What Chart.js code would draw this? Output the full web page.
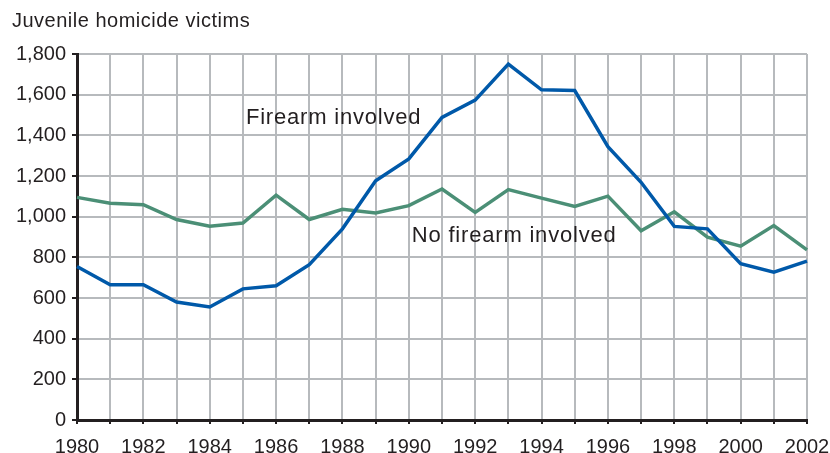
<!DOCTYPE html>
<html>
<head>
<meta charset="utf-8">
<script src="https://cdn.jsdelivr.net/npm/chart.js@4"></script>
<style>
  html, body { margin: 0; padding: 0; background: #fff; }
  #wrap { width: 830px; height: 453px; position: relative; }
</style>
</head>
<body>
<div id="wrap"><canvas id="chart" width="830" height="453"></canvas></div>
<script>
// ── DATA ──────────────────────────────────────
const years = ['1980','1981','1982','1983','1984','1985','1986','1987','1988','1989','1990',
               '1991','1992','1993','1994','1995','1996','1997','1998','1999','2000','2001','2002'];
const firearm   = [755, 665, 665, 580, 556, 645, 660, 764, 940, 1177, 1284,
                   1488, 1573, 1750, 1624, 1620, 1344, 1169, 952, 940, 769, 727, 781];
const noFirearm = [1095, 1066, 1059, 986, 953, 969, 1106, 986, 1036, 1018, 1054,
                   1136, 1021, 1133, 1091, 1050, 1101, 931, 1024, 899, 855, 956, 837];
const yTicks = [0, 200, 400, 600, 800, 1000, 1200, 1400, 1600, 1800];

const titleText = 'Juvenile homicide victims';
const seriesLabels = [
    { text: 'Firearm involved',    year: '1985', value: 1485 },
    { text: 'No firearm involved', year: '1990', value: 905 }
];

const FONT = '"Liberation Sans", Arial, Helvetica, sans-serif';

// title + in-plot series labels
const textPlugin = {
    id: 'texts',
    afterDraw(chart) {
        const ctx = chart.ctx;
        const xs = chart.scales.x, ys = chart.scales.y;
        ctx.save();
        ctx.fillStyle = '#231f20';
        ctx.textBaseline = 'alphabetic';
        ctx.textAlign = 'left';
        ctx.font = '20px ' + FONT;
        ctx.letterSpacing = '0.5px';
        ctx.fillText(titleText, 12, 27);
        ctx.textBaseline = 'middle';
        ctx.font = '22px ' + FONT;
        ctx.letterSpacing = '0.8px';
        seriesLabels.forEach(l => {
            const x = xs.getPixelForValue(years.indexOf(l.year)) + 3;
            ctx.fillText(l.text, x, ys.getPixelForValue(l.value));
        });
        ctx.letterSpacing = '0px';
        ctx.restore();
    }
};

new Chart(document.getElementById('chart').getContext('2d'), {
    type: 'line',
    data: {
        labels: years,
        datasets: [
            { label: 'Firearm involved', data: firearm, borderColor: '#0059a9', borderWidth: 3.5,
              pointRadius: 0, tension: 0, borderJoinStyle: 'miter' },
            { label: 'No firearm involved', data: noFirearm, borderColor: '#4b8f76', borderWidth: 3.5,
              pointRadius: 0, tension: 0, borderJoinStyle: 'miter' }
        ]
    },
    options: {
        responsive: false,
        animation: false,
        layout: { autoPadding: false, padding: { top: 54, right: 23, bottom: 0, left: 0 } },
        plugins: { legend: { display: false }, tooltip: { enabled: false }, title: { display: false } },
        scales: {
            x: {
                offset: false,
                // fixed height, and no extra side padding for the end labels
                afterFit: s => { s.height = 33; s.paddingLeft = 0; s.paddingRight = 0; },
                grid: { color: '#b7babd', lineWidth: 2, tickColor: '#231f20', tickLength: 4, drawOnChartArea: true },
                border: { color: '#231f20', width: 3 },
                ticks: {
                    autoSkip: false, maxRotation: 0, padding: 11, color: '#231f20',
                    font: { family: FONT, size: 20 },
                    callback: (v, i) => i % 2 === 0 ? years[i] : ''
                }
            },
            y: {
                min: 0, max: 1800,
                afterFit: s => { s.width = 77; },
                afterBuildTicks: s => { s.ticks = yTicks.map(v => ({ value: v })); },
                grid: { color: '#b7babd', lineWidth: 2, tickColor: '#231f20', tickLength: 5 },
                border: { color: '#231f20', width: 3 },
                ticks: {
                    padding: 6, color: '#231f20',
                    font: { family: FONT, size: 20 },
                    callback: v => v.toLocaleString('en-US')
                }
            }
        }
    },
    plugins: [textPlugin]
});
</script>
</body>
</html>
